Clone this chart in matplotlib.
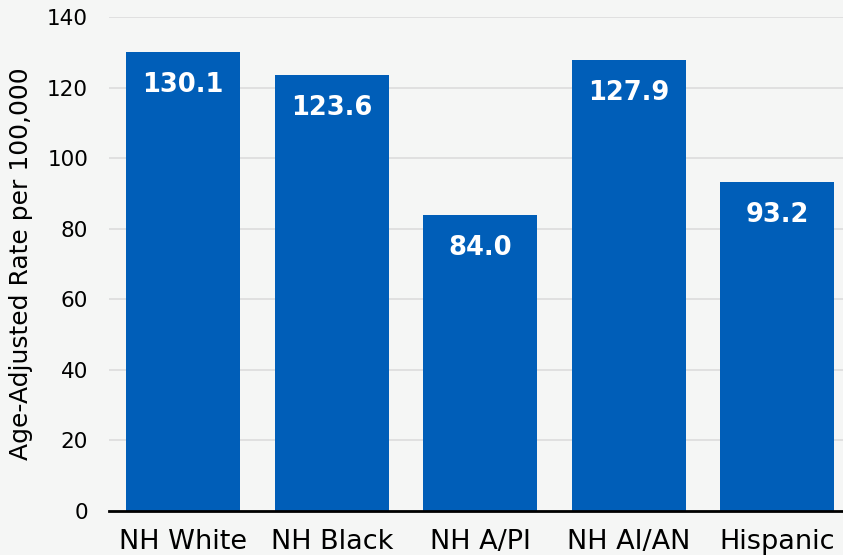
import matplotlib
matplotlib.use('Agg')
import matplotlib.pyplot as plt

# data
groups = ['NH White', 'NH Black', 'NH A/PI', 'NH AI/AN', 'Hispanic']
rates = [130.1, 123.6, 84.0, 127.9, 93.2]
yticks = [0, 20, 40, 60, 80, 100, 120, 140]

bg = '#f5f6f5'
bar_color = '#005eb8'

fig = plt.figure(figsize=(8.43, 5.55), dpi=100, facecolor=bg)
ax = fig.add_axes([109 / 843, 44 / 555, 742.5 / 843, 494 / 555], facecolor=bg)

x = range(len(groups))
bars = ax.bar(x, rates, width=0.77, color=bar_color, zorder=3)

for b, v in zip(bars, rates):
    ax.annotate(f'{v:.1f}', (b.get_x() + b.get_width() / 2, b.get_height()),
                xytext=(0, -24), textcoords='offset points',
                ha='center', va='center', color='white',
                fontsize=18.5, fontweight='bold', zorder=4)

ax.set_xlim(-0.5, 4.5)
ax.set_ylim(0, 140)
ax.set_yticks(yticks)
ax.set_xticks(list(x))
ax.set_xticklabels(groups, fontsize=19.5)
ax.tick_params(axis='y', labelsize=15.5, length=0, pad=15)
ax.tick_params(axis='x', length=0, pad=13)
ax.grid(axis='y', color='#dcdcdc', linewidth=1.2, zorder=0)

for s in ['top', 'right', 'left']:
    ax.spines[s].set_visible(False)
ax.spines['bottom'].set_color('black')
ax.spines['bottom'].set_linewidth(2)
ax.spines['bottom'].set_zorder(5)

ax.set_ylabel('Age-Adjusted Rate per 100,000', fontsize=18, labelpad=10)

fig.savefig('out.png', dpi=100, facecolor=bg)
